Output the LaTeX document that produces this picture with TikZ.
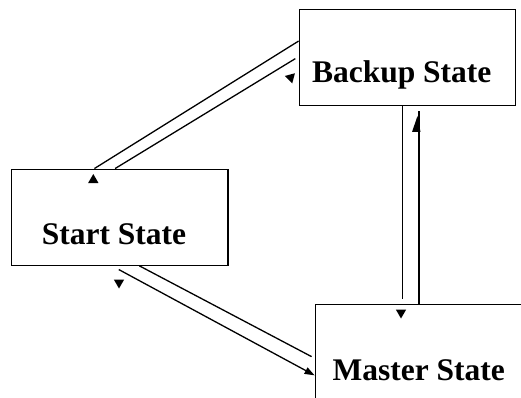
\documentclass[tikz,border=0pt]{standalone}
\usepackage{fontspec}
\setmainfont{Liberation Serif}
\usetikzlibrary{shapes.geometric,arrows.meta,calc}
\begin{document}
\begin{tikzpicture}[x=1pt,y=-1pt,
  statebox/.style={draw,line width=1.3pt,minimum width=216.5pt,minimum height=96pt,inner sep=0pt},
  statelabel/.style={font=\bfseries\fontsize{31.5}{31.5}\selectfont,anchor=base,inner sep=0pt},
  link/.style={line width=1.3pt},
  tip/.style={regular polygon,regular polygon sides=3,fill,draw=none,inner sep=0pt,minimum size=12pt}]
\useasboundingbox (0,0) rectangle (521,398);

% state boxes
\node[statebox] (backup) at (407.5,57.3) {};
\node[statebox] (start)  at (119.7,217.2) {};
\node[statebox] (master) at (423.5,352.7) {};

% state names
\node[statelabel] (backupT) at (401.7,83)  {Backup State};
\node[statelabel] (startT)  at (114,244)   {Start State};
\node[statelabel] (masterT) at (418.8,380) {Master State};

% Backup <-> Start
\draw[link] ($(backup.north west)+(0,32.4)$) -- ($(start.north west)+(83.6,0)$);
\draw[link] ($(backup.north west)+(-3.3,50)$) -- ($(start.north west)+(104.3,0)$);

% Start <-> Master
\draw[link] ($(start.south west)+(128.6,0)$) -- ($(master.north west)+(-3,52.6)$);
\draw[link,-{Triangle[length=10pt,width=7pt]}] ($(start.south west)+(108,3.7)$) -- ($(master.north west)+(0,71.3)$);

% Backup <-> Master
\draw[link] ($(backup.south west)+(104,0)$) -- ($(master.north west)+(88,-5.4)$);
\draw[link] ($(master.north west)+(104.4,0)$) -- ($(backup.south west)+(120.4,5.4)$);

% loose arrow heads
\node[tip,rotate=-165] (t1) at (290.7,77.5) {};
\node[tip]             (t2) at (93.3,180)   {};
\node[tip,rotate=180]  (t3) at (119,282.5)  {};
\node[tip,rotate=180]  (t4) at (401,312.5)  {};
\fill (417.5,116) -- (412,132) -- (420.5,132) -- cycle;
\end{tikzpicture}
\end{document}
